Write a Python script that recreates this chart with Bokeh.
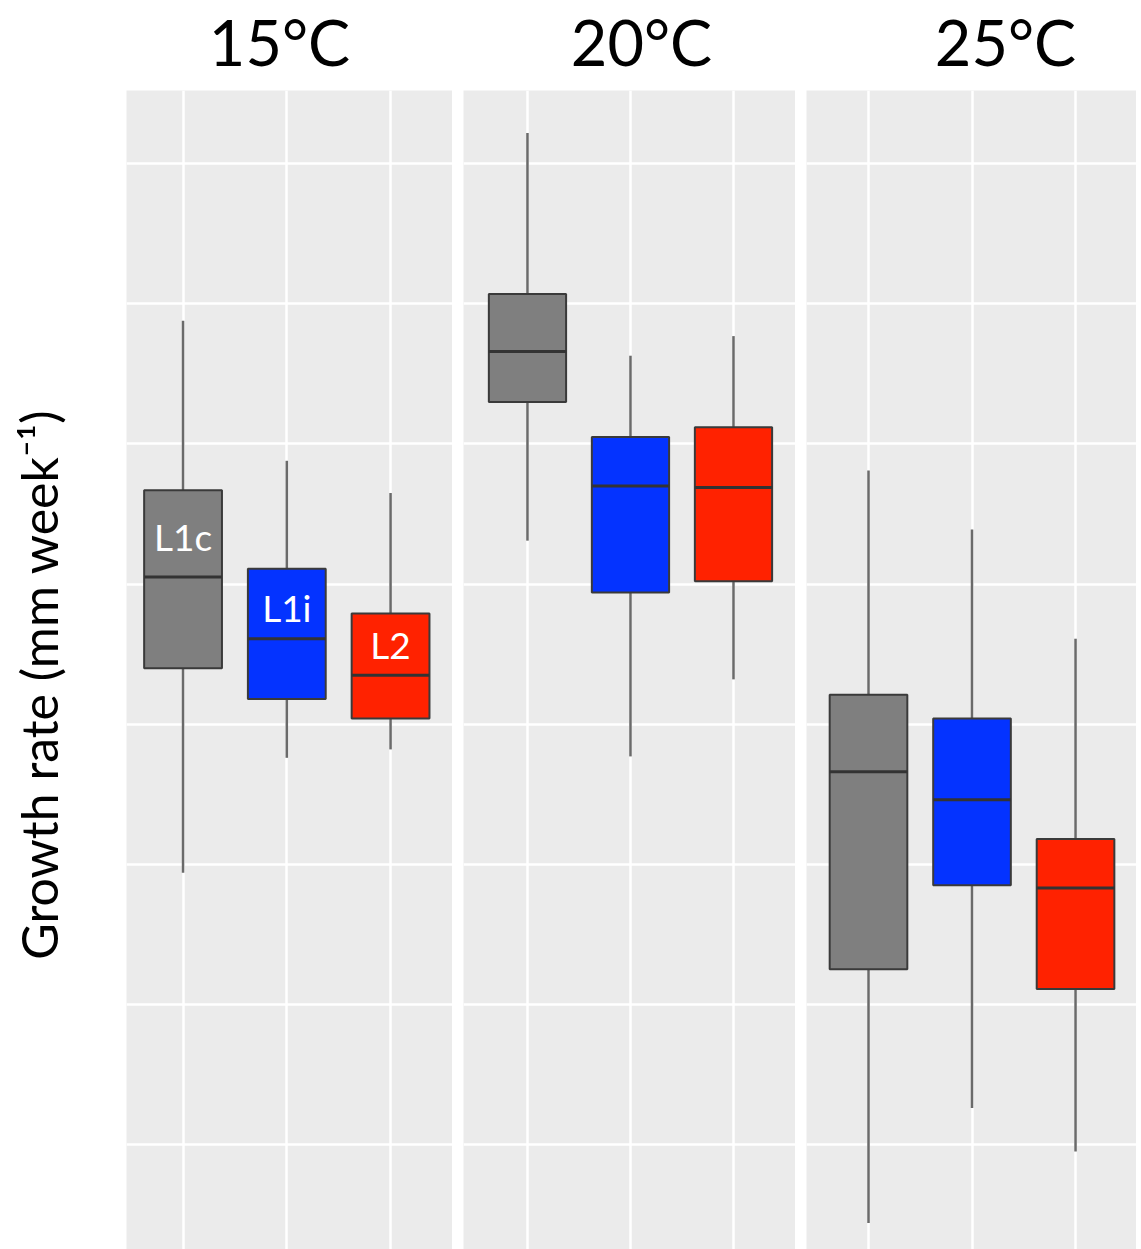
import math
from bokeh.plotting import figure
from bokeh.models import Range1d, FixedTicker, ColumnDataSource
from bokeh.layouts import row, column
from bokeh.embed import file_html
from bokeh.resources import INLINE
from bokeh.core.properties import value

# ---------------- data ----------------
temperatures = ["15°C", "20°C", "25°C"]
lineages = ["L1c", "L1i", "L2"]

# one inner list per temperature panel, in the order of `lineages`
lower_whisker = [[2.94, 3.76, 3.82], [5.31, 3.77, 4.32], [0.44, 1.26, 0.95]]
lower_quartile = [[4.40, 4.18, 4.04], [6.30, 4.94, 5.02], [2.25, 2.85, 2.11]]
median = [[5.05, 4.61, 4.35], [6.66, 5.70, 5.69], [3.66, 3.46, 2.83]]
upper_quartile = [[5.67, 5.11, 4.79], [7.07, 6.05, 6.12], [4.21, 4.04, 3.18]]
upper_whisker = [[6.88, 5.88, 5.65], [8.22, 6.63, 6.77], [5.81, 5.39, 4.61]]

y_label = "Growth rate (mm week\u207b\u00b9)"

# ---------------- styling / layout ----------------
fill_colors = ["#7F7F7F", "#0433FF", "#FF2200"]
panel_bg = "#EBEBEB"
FONT = "Lato"
BOX_W = 0.75
GAP = 11
HEADER_H = 90
PANEL_H = 1159

x_ranges = [(0.455, 3.597), (0.379, 3.602), (0.401, 3.589)]
panel_widths = [326, 332, 330]
y_range = (0.2505, 8.523)
lineage_label_y = [5.34, 4.833, 4.569]

# header strip with the facet titles (coordinates = page pixels)
title_centers = [279, 641, 1005]
header = figure(width=1136, height=HEADER_H, x_range=Range1d(0, 1136), y_range=Range1d(HEADER_H, 0),
                x_axis_location=None, y_axis_location=None, toolbar_location=None,
                output_backend="svg", min_border=0)
header.outline_line_color = None
header.grid.visible = False
header.background_fill_color = "white"
header.text(x=title_centers, y=[41] * 3, text=temperatures, text_color="black",
            text_font=value(FONT), text_font_size="63px",
            text_align="center", text_baseline="alphabetic")

# left strip with the y-axis title
ylab = figure(width=126 - GAP, height=PANEL_H, x_range=Range1d(0, 126 - GAP),
              y_range=Range1d(1249, HEADER_H),
              x_axis_location=None, y_axis_location=None, toolbar_location=None,
              output_backend="svg", min_border=0)
ylab.outline_line_color = None
ylab.grid.visible = False
ylab.background_fill_color = "white"
ylab.text(x=[38], y=[684], text=[y_label], angle=math.pi / 2, text_color="black",
          text_font=value(FONT), text_font_size="50px",
          text_align="center", text_baseline="alphabetic")

figs = [ylab]
for i, temp in enumerate(temperatures):
    p = figure(width=panel_widths[i], height=PANEL_H,
               x_range=Range1d(*x_ranges[i]), y_range=Range1d(*y_range),
               x_axis_location=None, y_axis_location=None,
               toolbar_location=None, output_backend="svg", min_border=0)
    p.background_fill_color = panel_bg
    p.border_fill_color = "white"
    p.outline_line_color = None
    p.xgrid.ticker = FixedTicker(ticks=[1, 2, 3])
    p.ygrid.ticker = FixedTicker(ticks=[1, 2, 3, 4, 5, 6, 7, 8])
    for g in (p.xgrid, p.ygrid):
        g.grid_line_color = "white"
        g.grid_line_width = 2.5
        g.minor_grid_line_color = None

    xs = [k + 1 for k in range(len(lineages))]
    src = ColumnDataSource(dict(
        x=xs,
        lineage=lineages,
        lw=lower_whisker[i], q1=lower_quartile[i], med=median[i],
        q3=upper_quartile[i], uw=upper_whisker[i],
        color=fill_colors,
        xl=[x - BOX_W / 2 for x in xs], xr=[x + BOX_W / 2 for x in xs],
    ))
    # whiskers
    p.segment(x0="x", x1="x", y0="q3", y1="uw", source=src,
              line_color="#6A6A6A", line_width=2.5)
    p.segment(x0="x", x1="x", y0="lw", y1="q1", source=src,
              line_color="#6A6A6A", line_width=2.5)
    # boxes
    p.vbar(x="x", width=BOX_W, bottom="q1", top="q3", source=src,
           fill_color="color", line_color="#3A3A3A", line_width=2)
    # medians
    p.segment(x0="xl", x1="xr", y0="med", y1="med", source=src,
              line_color="#333333", line_width=3)

    if i == 0:
        lsrc = ColumnDataSource(dict(x=xs, y=lineage_label_y, t=lineages))
        p.text(x="x", y="y", text="t", source=lsrc, text_color="white",
               text_font=value(FONT), text_font_size="37px",
               text_align="center", text_baseline="alphabetic")
    figs.append(p)

layout = column(header, row(*figs, spacing=GAP), spacing=0)
open("out.html", "w").write(file_html(layout, INLINE))
